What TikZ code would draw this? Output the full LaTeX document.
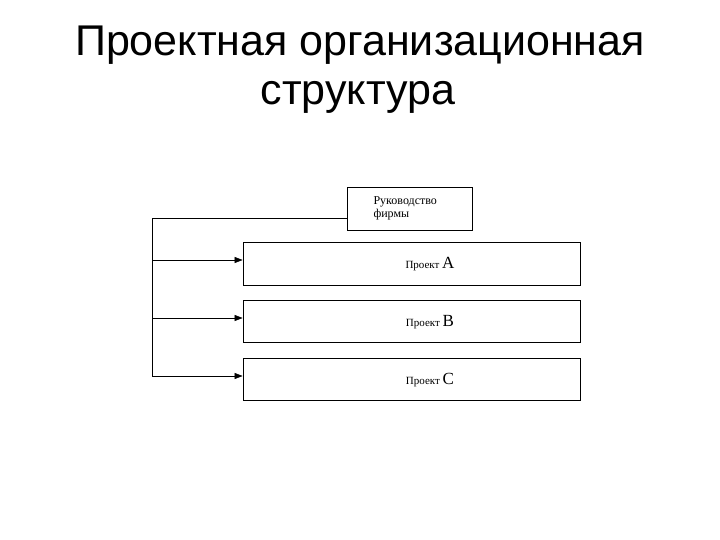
\documentclass[tikz,border=0pt]{standalone}
\usepackage{fontspec}
\setmainfont{Liberation Serif}
\newfontfamily\titlefont{Liberation Sans}
\usetikzlibrary{arrows.meta}
\begin{document}
\begin{tikzpicture}[x=1pt,y=-1pt,
  box/.style={draw,line width=0.8pt,inner sep=0pt},
  conn/.style={line width=0.6pt},
  arr/.style={conn,-{Triangle[length=8pt,width=6pt]}}]
\useasboundingbox (0,0) rectangle (720,540);
\node[font=\titlefont\fontsize{43}{48}\selectfont] (t1) at (360,45) {Проектная организационная};
\node[font=\titlefont\fontsize{43}{48}\selectfont] (t2) at (358,97) {структура};
\node[box,minimum width=125pt,minimum height=43pt] (top) at (409.5,208.5) {};
\node[font=\fontsize{12}{13}\selectfont,align=left,anchor=north west] (tt) at (370,193) {Руководство\\фирмы};
\node[box,minimum width=337pt,minimum height=43pt] (a) at (411.5,263.5) {};
\node[box,minimum width=337pt,minimum height=42pt] (b) at (411.5,321) {};
\node[box,minimum width=337pt,minimum height=42pt] (c) at (411.5,379) {};
\node (la) at (430,264) {\fontsize{11}{12}\selectfont Проект \fontsize{17}{17}\selectfont A};
\node (lb) at (430,322) {\fontsize{11}{12}\selectfont Проект \fontsize{17}{17}\selectfont B};
\node (lc) at (430,380) {\fontsize{11}{12}\selectfont Проект \fontsize{17}{17}\selectfont C};
\coordinate (tl) at (152,218);
\coordinate (bl) at (152,376);
\draw[conn] (top.west |- tl) -- (tl) -- (bl);
\draw[arr] (152,260) -- (a.west |- 0,260);
\draw[arr] (152,318) -- (b.west |- 0,318);
\draw[arr] (bl) -- (c.west |- 0,376);
\end{tikzpicture}
\end{document}
